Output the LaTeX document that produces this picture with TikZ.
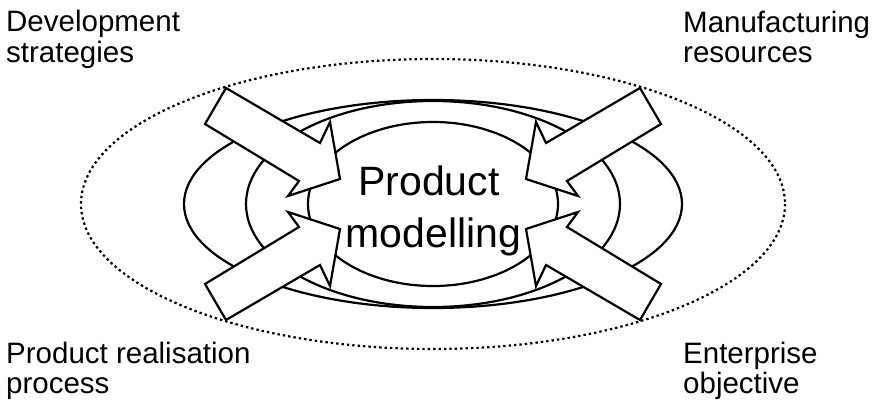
\documentclass[tikz,border=0pt]{standalone}
\usepackage{fontspec}
\setmainfont{Liberation Sans}
\begin{document}
\begin{tikzpicture}[x=1pt,y=-1pt,
  ring/.style={draw=black,line width=2.2pt},
  fieldring/.style={draw=black,line width=2.2pt,dash pattern=on 2.4pt off 3pt},
  blockarrow/.style={draw=black,fill=white,line width=2.2pt,line join=miter},
  corner/.style={inner sep=0pt,anchor=base west,font=\fontsize{29.5}{31}\selectfont},
  centre/.style={inner sep=0pt,anchor=base,font=\fontsize{41}{52}\selectfont}]
\useasboundingbox (0,0) rectangle (882,406);
\coordinate (c) at (433,204);

% field of influence and the nested solid rings
\draw[fieldring] (c) ellipse [x radius=352, y radius=145];
\draw[ring] (c) ellipse [x radius=249, y radius=104];
\draw[ring] (c) ellipse [x radius=187, y radius=103];
\draw[ring] (c) ellipse [x radius=125, y radius=82];

% four block arrows pointing at the core, mirrored about the centre
\foreach \sx/\sy in {1/1,-1/1,1/-1,-1/-1}{
  \draw[blockarrow,shift={(c)},xscale=\sx,yscale=\sy]
    (-207,-116) -- (-113,-61) -- (-103,-82) -- (-93,-25)
    -- (-145,-8) -- (-134,-23) -- (-228,-80) -- cycle;
}

% core label
\node[centre] (core1) at (429,195) {Product};
\node[centre] (core2) at (433.5,247) {modelling};

% corner labels
\node[corner] (dev1) at (6,32) {Development};
\node[corner] (dev2) at (6,62.5) {strategies};
\node[corner] (man1) at (683,33) {Manufacturing};
\node[corner] (man2) at (683,63) {resources};
\node[corner] (pro1) at (6,363.3) {Product realisation};
\node[corner] (pro2) at (6,393.3) {process};
\node[corner] (ent1) at (683,363.3) {Enterprise};
\node[corner] (ent2) at (683,393.3) {objective};
\end{tikzpicture}
\end{document}
